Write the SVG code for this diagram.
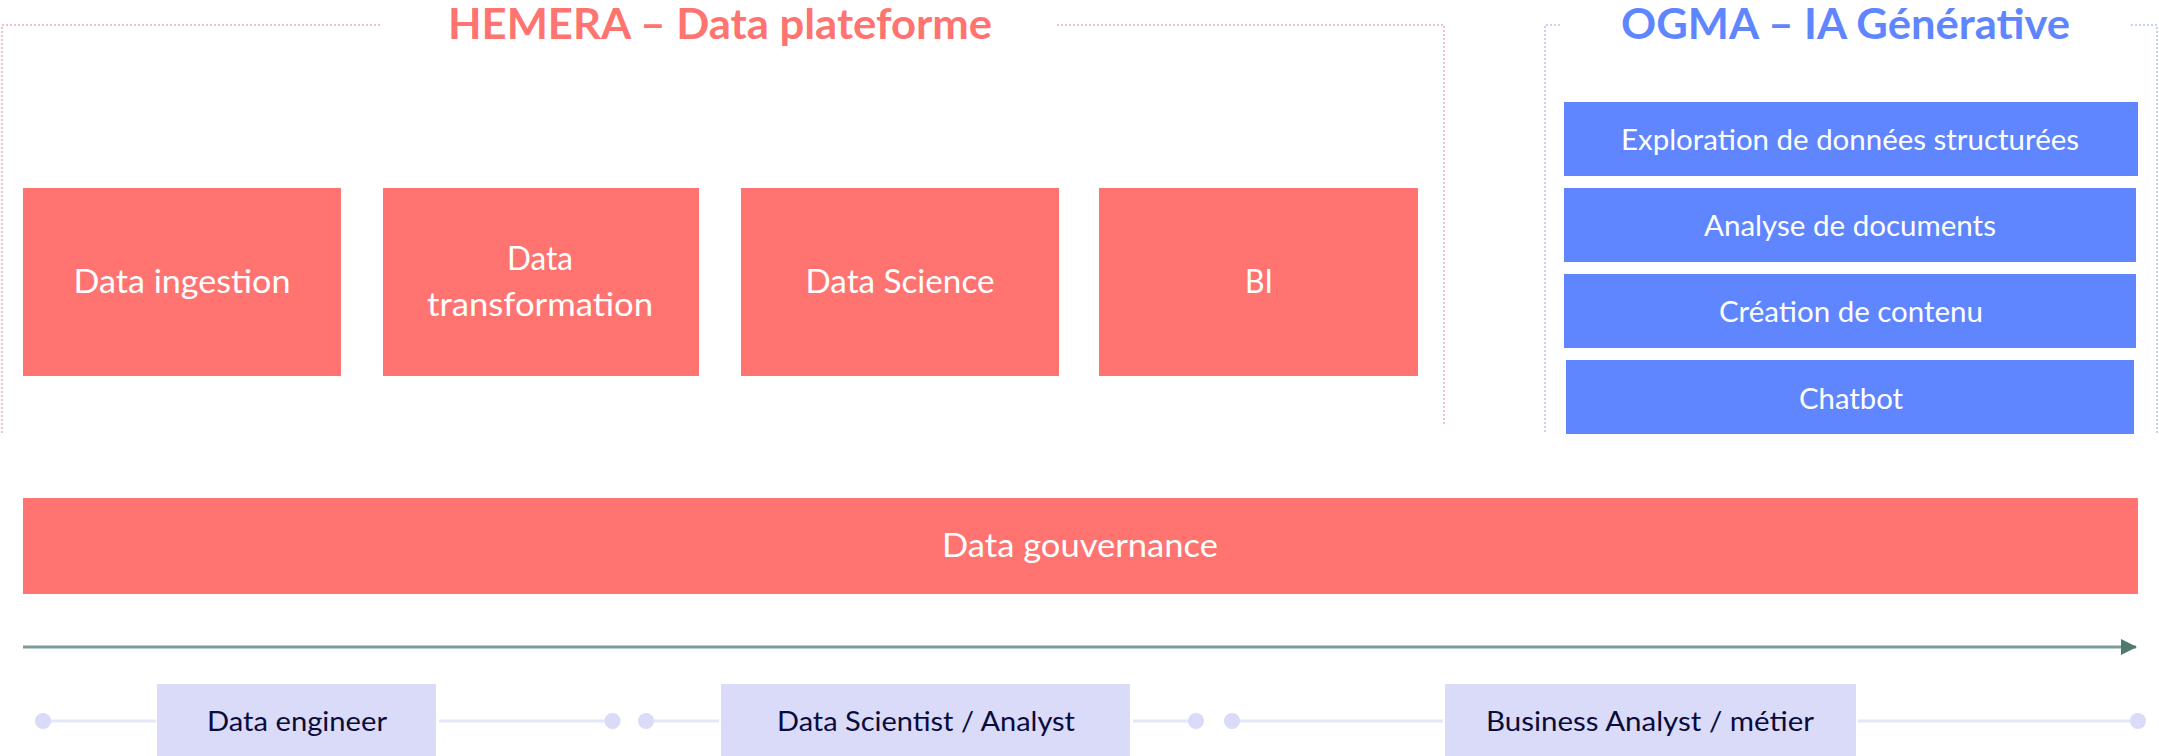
<svg xmlns="http://www.w3.org/2000/svg" width="2159" height="756" viewBox="0 0 2159 756">
<style>
  text { font-family: Lato, "Open Sans", "Liberation Sans", sans-serif; text-anchor: middle; }
  .title { font-size: 42px; font-weight: 700; }
  .red { fill: #FF7370; }
  .blue { fill: #5F86FE; }
  .lbl { fill: #FFFFFF; font-size: 32px; }
  .blbl { fill: #FFFFFF; font-size: 28px; }
  .role { fill: #D9DBF8; }
  .rlbl { fill: #0B0B3B; font-size: 27px; }
  .frameR { fill: none; stroke: #EDBFCB; stroke-width: 2; stroke-dasharray: 2 2; }
  .frameB { fill: none; stroke: #C9D4F2; stroke-width: 2; stroke-dasharray: 2 2; }
  .rline { stroke: #E4E6FB; stroke-width: 3; fill: none; }
  .dot { fill: #D9DBF8; }
</style>
<defs>
  <marker id="arr" markerWidth="16" markerHeight="16" refX="15" refY="8" orient="auto" markerUnits="userSpaceOnUse">
    <path d="M0,0 L16,8 L0,16 Z" fill="#4F7A70"/>
  </marker>
</defs>

<g id="frame-hemera">
  <path class="frameR" d="M380,25 L2,25 L2,435"/>
  <path class="frameR" d="M1057,25 L1444,25 L1444,426"/>
  <text class="title red" x="720" y="39" textLength="544" lengthAdjust="spacingAndGlyphs">HEMERA – Data plateforme</text>
</g>

<g id="frame-ogma">
  <path class="frameB" d="M1560,25 L1545,25 L1545,433"/>
  <path class="frameB" d="M2131,25 L2157,25 L2157,433"/>
  <text class="title blue" x="1845.5" y="39" textLength="449" lengthAdjust="spacingAndGlyphs">OGMA – IA Générative</text>
</g>

<g id="node-ingestion">
  <rect class="red" x="23" y="188" width="318" height="188"/>
  <text class="lbl" x="182" y="293" textLength="217" lengthAdjust="spacingAndGlyphs">Data ingestion</text>
</g>
<g id="node-transformation">
  <rect class="red" x="383" y="188" width="316" height="188"/>
  <text class="lbl" x="540" y="270" textLength="66" lengthAdjust="spacingAndGlyphs">Data</text>
  <text class="lbl" x="540" y="316" textLength="226" lengthAdjust="spacingAndGlyphs">transformation</text>
</g>
<g id="node-science">
  <rect class="red" x="741" y="188" width="318" height="188"/>
  <text class="lbl" x="900" y="293" textLength="189" lengthAdjust="spacingAndGlyphs">Data Science</text>
</g>
<g id="node-bi">
  <rect class="red" x="1099" y="188" width="319" height="188"/>
  <text class="lbl" x="1259" y="293" textLength="28" lengthAdjust="spacingAndGlyphs">BI</text>
</g>

<g id="node-exploration">
  <rect class="blue" x="1564" y="102" width="574" height="74"/>
  <text class="blbl" x="1850" y="150" textLength="458" lengthAdjust="spacingAndGlyphs">Exploration de données structurées</text>
</g>
<g id="node-analyse">
  <rect class="blue" x="1564" y="188" width="572" height="74"/>
  <text class="blbl" x="1850" y="236" textLength="292" lengthAdjust="spacingAndGlyphs">Analyse de documents</text>
</g>
<g id="node-creation">
  <rect class="blue" x="1564" y="274" width="572" height="74"/>
  <text class="blbl" x="1851" y="322" textLength="264" lengthAdjust="spacingAndGlyphs">Création de contenu</text>
</g>
<g id="node-chatbot">
  <rect class="blue" x="1566" y="360" width="568" height="74"/>
  <text class="blbl" x="1851" y="409" textLength="104" lengthAdjust="spacingAndGlyphs">Chatbot</text>
</g>

<g id="node-gouvernance">
  <rect class="red" x="23" y="498" width="2115" height="96"/>
  <text class="lbl" x="1080" y="557" textLength="276" lengthAdjust="spacingAndGlyphs">Data gouvernance</text>
</g>

<g id="connectors">
  <line x1="23" y1="647" x2="2136" y2="647" stroke="#7A9E97" stroke-width="3" marker-end="url(#arr)"/>
  <line class="rline" x1="43" y1="721" x2="156" y2="721"/>
  <line class="rline" x1="439" y1="721" x2="612" y2="721"/>
  <line class="rline" x1="646" y1="721" x2="719" y2="721"/>
  <line class="rline" x1="1133" y1="721" x2="1196" y2="721"/>
  <line class="rline" x1="1232" y1="721" x2="1443" y2="721"/>
  <line class="rline" x1="1858" y1="721" x2="2138" y2="721"/>
  <circle class="dot" cx="43" cy="721" r="8"/>
  <circle class="dot" cx="612.5" cy="721" r="8"/>
  <circle class="dot" cx="646" cy="721" r="8"/>
  <circle class="dot" cx="1196" cy="721" r="8"/>
  <circle class="dot" cx="1232" cy="721" r="8"/>
  <circle class="dot" cx="2138" cy="721" r="8"/>
</g>

<g id="node-engineer">
  <rect class="role" x="157" y="684" width="279" height="72"/>
  <text class="rlbl" x="297" y="731" textLength="180" lengthAdjust="spacingAndGlyphs">Data engineer</text>
</g>
<g id="node-scientist">
  <rect class="role" x="721" y="684" width="409" height="72"/>
  <text class="rlbl" x="926" y="731" textLength="298" lengthAdjust="spacingAndGlyphs">Data Scientist / Analyst</text>
</g>
<g id="node-business">
  <rect class="role" x="1445" y="684" width="411" height="72"/>
  <text class="rlbl" x="1650" y="731" textLength="328" lengthAdjust="spacingAndGlyphs">Business Analyst / métier</text>
</g>
</svg>
